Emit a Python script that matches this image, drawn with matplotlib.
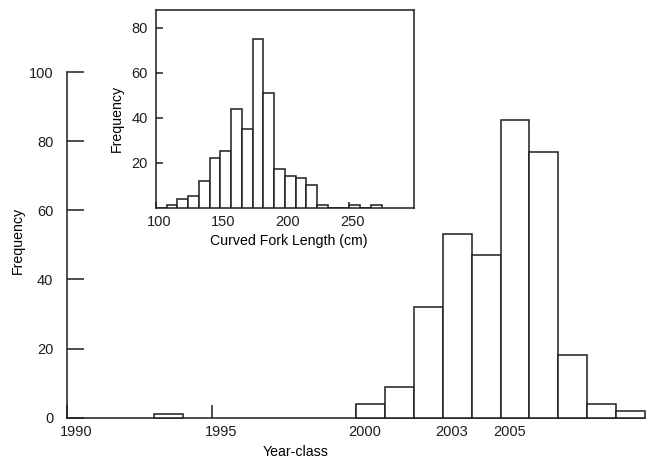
#!/usr/bin/env python3

import numpy as np
from matplotlib import pyplot as plt
from matplotlib.transforms import ScaledTranslation

# main histogram: year-class frequency
years = [1993, 2000, 2001, 2002, 2003, 2004, 2005, 2006, 2007, 2008, 2009]
year_counts = [1, 4, 9, 32, 53, 47, 86, 77, 18, 4, 2]
year_ticks = [1990, 1995, 2000, 2003, 2005]

# inset histogram: curved fork length, bins of 25/3 cm starting at 100
cfl_bin_width = 25 / 3
cfl_counts = [0, 1, 4, 5, 12, 22, 25, 44, 35, 75, 51, 17, 14, 13, 10, 1, 0, 0, 1, 0, 1]
cfl_ticks = [100, 150, 200, 250]

LINE = '#1e1e1e'
LW = 1.1

plt.rcParams['font.family'] = ['Liberation Sans', 'DejaVu Sans']
plt.rcParams['text.color'] = LINE
plt.rcParams['xtick.color'] = LINE
plt.rcParams['ytick.color'] = LINE

W, H = 653, 462
fig = plt.figure(figsize=(W / 100, H / 100), dpi=100)

def px_axes(x0, y0, x1, y1):
    return fig.add_axes([x0 / W, 1 - y1 / H, (x1 - x0) / W, (y1 - y0) / H])

# ---- main plot
ax = px_axes(67.3, 72, 645, 417.7)
ax.bar(years, year_counts, width=1, align='edge', color='white',
       edgecolor=LINE, linewidth=LW, clip_on=False, zorder=3)
ax.set_xlim(1990, 2010)
ax.set_ylim(0, 100)
for s in ['top', 'right']:
    ax.spines[s].set_visible(False)
for s in ['left', 'bottom']:
    ax.spines[s].set_linewidth(LW)
    ax.spines[s].set_color(LINE)
ax.spines['left'].set_bounds(0, 100)
ax.spines['bottom'].set_bounds(1990, 2010)
ax.set_xticks(year_ticks)
ax.set_yticks(np.arange(0, 101, 20))
ax.tick_params(axis='x', direction='in', length=9.4, width=LW, pad=5.5, labelsize=10.5)
ax.tick_params(axis='y', direction='in', length=12, width=LW, pad=10, labelsize=10.5)
for lab in ax.get_xticklabels():
    lab.set_transform(lab.get_transform() + ScaledTranslation(0.09, 0, fig.dpi_scale_trans))
ax.set_ylabel('Frequency', fontsize=10.2)
ax.yaxis.set_label_coords(18 / W, 1 - 240 / H, transform=fig.transFigure)
ax.set_xlabel('Year-class', fontsize=10.2)
ax.xaxis.set_label_coords(296 / W, 1 - 452 / H, transform=fig.transFigure)
ax.xaxis.label.set_va('center')
ax.yaxis.label.set_va('center')

# ---- inset
ins = px_axes(156, 10, 414.3, 207.7)
edges = 100 + cfl_bin_width * np.arange(len(cfl_counts))
ins.bar(edges, cfl_counts, width=cfl_bin_width, align='edge', color='white',
        edgecolor=LINE, linewidth=LW, zorder=3)
ins.set_xlim(100, 300.4)
ins.set_ylim(0, 87.9)
for s in ins.spines.values():
    s.set_linewidth(LW)
    s.set_color(LINE)
ins.set_xticks(cfl_ticks)
ins.set_yticks([20, 40, 60, 80])
ins.tick_params(axis='x', direction='in', length=4.5, width=LW, pad=5.3, labelsize=10.5)
ins.tick_params(axis='y', direction='in', length=5, width=LW, pad=5.8, labelsize=10.5)
for lab in ins.get_xticklabels():
    lab.set_transform(lab.get_transform() + ScaledTranslation(0.03, 0, fig.dpi_scale_trans))
ins.set_ylabel('Frequency', fontsize=10.2)
ins.yaxis.set_label_coords(117.3 / W, 1 - 118.5 / H, transform=fig.transFigure)
ins.set_xlabel('Curved Fork Length (cm)', fontsize=10.2)
ins.xaxis.set_label_coords(289 / W, 1 - 240.7 / H, transform=fig.transFigure)
ins.xaxis.label.set_va('center')
ins.yaxis.label.set_va('center')

fig.savefig('out.png', dpi=100)
